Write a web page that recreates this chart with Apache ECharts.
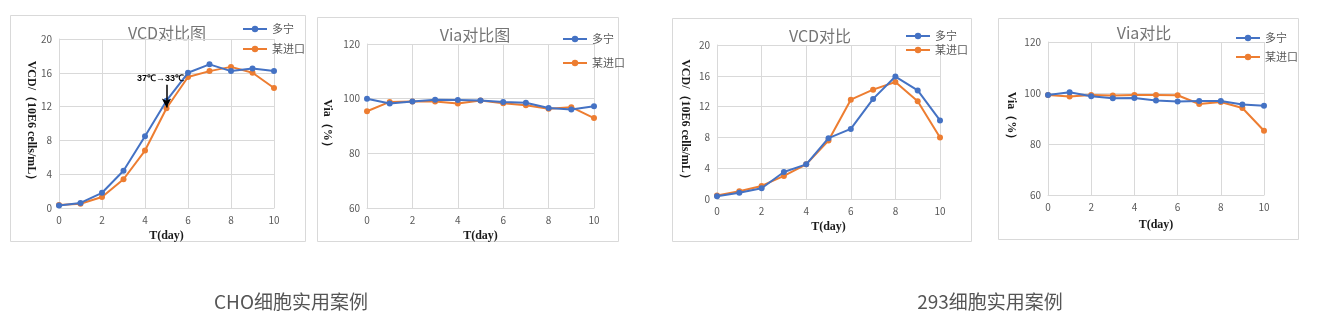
<!DOCTYPE html>
<html>
<head>
<meta charset="utf-8">
<script src="https://cdn.jsdelivr.net/npm/echarts@6/dist/echarts.min.js"></script>
<style>
  html, body { margin: 0; padding: 0; background: #fff; }
  #chart { width: 1318px; height: 327px; }
</style>
</head>
<body>
<div id="chart"></div>
<script>
// Culture days
const days = [0, 1, 2, 3, 4, 5, 6, 7, 8, 9, 10];
const seriesNames = ['多宁', '某进口'];

// CHO cells: viable cell density (10E6 cells/mL)
const choVcdDuoning = [0.3, 0.6, 1.8, 4.4, 8.5, 12.7, 16.0, 17.0, 16.2, 16.5, 16.2];
const choVcdImport  = [0.35, 0.5, 1.3, 3.4, 6.8, 11.8, 15.5, 16.2, 16.7, 16.0, 14.2];
// CHO cells: viability (%)
const choViaDuoning = [100.0, 98.2, 99.0, 99.6, 99.5, 99.3, 98.8, 98.5, 96.6, 96.0, 97.2];
const choViaImport  = [95.4, 98.8, 99.0, 99.0, 98.2, 99.3, 98.3, 97.6, 96.3, 96.9, 92.9];

// 293 cells: viable cell density (10E6 cells/mL)
const hekVcdDuoning = [0.35, 0.8, 1.4, 3.5, 4.5, 7.9, 9.1, 13.0, 15.9, 14.1, 10.2];
const hekVcdImport  = [0.45, 1.0, 1.7, 3.0, 4.5, 7.6, 12.9, 14.2, 15.2, 12.7, 8.0];
// 293 cells: viability (%)
const hekViaDuoning = [99.2, 100.3, 98.7, 97.9, 98.0, 97.1, 96.7, 96.9, 96.9, 95.5, 95.0];
const hekViaImport  = [99.2, 98.6, 99.2, 99.0, 99.2, 99.2, 99.1, 95.7, 96.5, 94.1, 85.2];

// Panel texts
const panelTitles = ['VCD对比图', 'Via对比图', 'VCD对比', 'Via对比'];
const yNames = ['VCD/（10E6 cells/mL）', 'Via（%）', 'VCD/（10E6 cells/mL）', 'Via（%）'];
const xName = 'T(day)';
const captions = ['CHO细胞实用案例', '293细胞实用案例'];
const shiftNote = '37℃→33℃';
const shiftDay = 5;

const BLUE = '#4472C4';
const ORANGE = '#ED7D31';
const GRID = '#d9d9d9';
const LABEL = '#595959';

const pairs = (ys) => days.map((d, i) => [d, ys[i]]);

// Panel layout: outer frame and plot area
const panels = [
  { frame: [10, 15, 295, 226], grid: { left: 59, top: 39, width: 215, height: 169 },
    yMin: 0, yMax: 20, yInt: 4, yGap: 22, xGap: 22, title: [167, 33],
    legend: { left: 237, top: 18, itemGap: 8 } },
  { frame: [317, 17, 301, 224], grid: { left: 367, top: 44, width: 227, height: 164 },
    yMin: 60, yMax: 120, yInt: 20, yGap: 34, xGap: 21, title: [475, 35],
    legend: { left: 557, top: 28, itemGap: 12 } },
  { frame: [672, 18, 299, 223], grid: { left: 717, top: 45, width: 223, height: 154 },
    yMin: 0, yMax: 20, yInt: 4, yGap: 26, xGap: 22, title: [820, 36],
    legend: { left: 900, top: 25, itemGap: 2 } },
  { frame: [998, 18, 300, 221], grid: { left: 1048, top: 42, width: 216, height: 153 },
    yMin: 60, yMax: 120, yInt: 20, yGap: 31, xGap: 24, title: [1144, 33],
    legend: { left: 1230, top: 27, itemGap: 7 } }
];

const panelData = [
  [choVcdDuoning, choVcdImport],
  [choViaDuoning, choViaImport],
  [hekVcdDuoning, hekVcdImport],
  [hekViaDuoning, hekViaImport]
];

const serifBold = { fontFamily: '"Liberation Serif", "DejaVu Serif", serif', fontWeight: 'bold', fontSize: 12, color: '#1a1a1a' };

const grids = [], xAxes = [], yAxes = [], series = [], legends = [], graphics = [];

panels.forEach((p, i) => {
  grids.push(Object.assign({ containLabel: false }, p.grid));
  xAxes.push({
    type: 'value', gridIndex: i, min: 0, max: 10, interval: 2,
    name: xName, nameLocation: 'middle', nameGap: p.xGap,
    nameTextStyle: serifBold,
    axisLine: { show: true, lineStyle: { color: GRID, width: 1 } },
    axisTick: { show: false },
    axisLabel: { color: LABEL, fontSize: 10, margin: 7, fontFamily: '"Noto Sans CJK SC", "Noto Sans", sans-serif' },
    splitLine: { show: true, lineStyle: { color: GRID, width: 1 } }
  });
  yAxes.push({
    type: 'value', gridIndex: i, min: p.yMin, max: p.yMax, interval: p.yInt,
    name: yNames[i], nameLocation: 'middle', nameGap: p.yGap, nameRotate: -90,
    nameTextStyle: Object.assign({}, serifBold, { fontSize: 12 }),
    axisLine: { show: true, lineStyle: { color: GRID, width: 1 } },
    axisTick: { show: false },
    axisLabel: { color: LABEL, fontSize: 10, margin: 7, fontFamily: '"Noto Sans CJK SC", "Noto Sans", sans-serif' },
    splitLine: { show: true, lineStyle: { color: GRID, width: 1 } }
  });
  panelData[i].forEach((ys, k) => {
    const s = {
      name: seriesNames[k], type: 'line', xAxisIndex: i, yAxisIndex: i,
      data: pairs(ys), symbol: 'circle', symbolSize: 6,
      color: k === 0 ? BLUE : ORANGE,
      lineStyle: { width: 2 }, z: k === 0 ? 3 : 2,
      animation: false
    };
    if (i === 0 && k === 0) {
      // temperature shift marker
      s.markLine = {
        silent: true, symbol: ['none', 'arrow'], symbolSize: [7, 9],
        lineStyle: { color: '#000', width: 1.5, type: 'solid' },
        label: { show: true, position: 'start', formatter: shiftNote, color: '#000',
                 fontSize: 9, fontWeight: 'bold', fontFamily: '"Liberation Sans", Arial, sans-serif',
                 offset: [-6, 0], distance: 2 },
        data: [[{ coord: [shiftDay, 14.6] }, { coord: [shiftDay, 11.9] }]],
        animation: false
      };
    }
    series.push(s);
  });
  legends.push({
    data: seriesNames, orient: 'vertical', left: p.legend.left, top: p.legend.top,
    itemGap: p.legend.itemGap, itemWidth: 24, itemHeight: 8,
    textStyle: { color: LABEL, fontSize: 11, lineHeight: 12, fontFamily: '"Noto Sans CJK SC", sans-serif' },
    selectedMode: false
  });
  graphics.push({
    type: 'rect', shape: { x: p.frame[0] + 0.5, y: p.frame[1] + 0.5, width: p.frame[2], height: p.frame[3] },
    style: { fill: 'none', stroke: GRID, lineWidth: 1 }, silent: true, z: -1
  });
  graphics.push({
    type: 'text', x: p.title[0], y: p.title[1],
    style: { text: panelTitles[i], fill: '#757575', fontSize: 16, textAlign: 'center', textVerticalAlign: 'middle',
             fontFamily: '"Noto Sans CJK SC", sans-serif' }, silent: true
  });
});

[[291, 302], [990, 302]].forEach((pos, i) => {
  graphics.push({
    type: 'text', x: pos[0], y: pos[1],
    style: { text: captions[i], fill: '#555', fontSize: 19, textAlign: 'center', textVerticalAlign: 'middle',
             fontFamily: '"Noto Sans CJK SC", sans-serif' }, silent: true
  });
});

const chart = echarts.init(document.getElementById('chart'), null, { renderer: 'canvas' });
chart.setOption({
  animation: false,
  backgroundColor: '#fff',
  grid: grids, xAxis: xAxes, yAxis: yAxes, series: series, legend: legends, graphic: graphics
});
</script>
</body>
</html>
